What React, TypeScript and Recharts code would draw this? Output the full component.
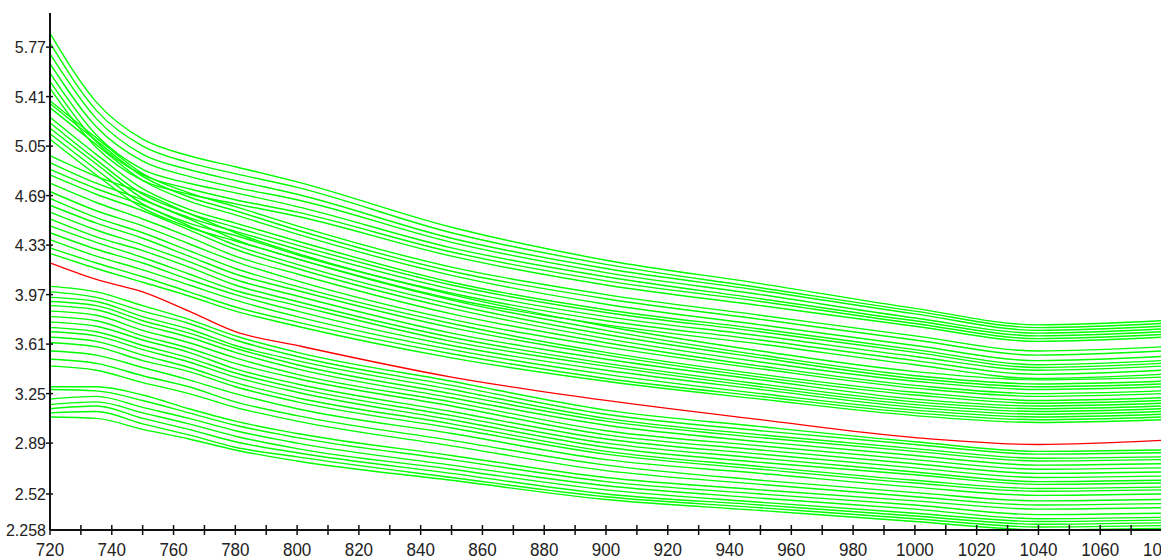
import React from "react";
import { LineChart, Line, XAxis, YAxis } from "recharts";

// wavelengths (nm) where each curve was sampled
const wavelengths = [720, 735, 750, 765, 780, 800, 850, 900, 950, 1000, 1040, 1080];

const xTicks = [
  720, 730, 740, 750, 760, 770, 780, 790, 800, 810, 820, 830, 840, 850, 860, 870, 880, 890,
  900, 910, 920, 930, 940, 950, 960, 970, 980, 990, 1000, 1010, 1020, 1030, 1040, 1050,
  1060, 1070, 1080,
];
const xLabels = [720, 740, 760, 780, 800, 820, 840, 860, 880, 900, 920, 940, 960, 980, 1000, 1020, 1040, 1060, 1080];

const yTicks = [2.258, 2.52, 2.89, 3.25, 3.61, 3.97, 4.33, 4.69, 5.05, 5.41, 5.77];
const yDomain = [2.258, 6.018];

// highlighted sample
const redCurve = [4.2, 4.08, 3.99, 3.85, 3.7, 3.6, 3.37, 3.2, 3.06, 2.93, 2.88, 2.91];

// all other samples
const greenCurves = [
  [5.87, 5.37, 5.1, 4.98, 4.9, 4.79, 4.46, 4.22, 4.05, 3.87, 3.75, 3.78],
  [5.8, 5.31, 5.05, 4.93, 4.85, 4.75, 4.42, 4.19, 4.02, 3.85, 3.73, 3.76],
  [5.72, 5.25, 4.99, 4.88, 4.8, 4.7, 4.38, 4.16, 4.0, 3.83, 3.71, 3.74],
  [5.65, 5.19, 4.94, 4.83, 4.75, 4.66, 4.35, 4.13, 3.97, 3.8, 3.69, 3.72],
  [5.58, 5.13, 4.88, 4.78, 4.71, 4.61, 4.31, 4.1, 3.94, 3.78, 3.67, 3.7],
  [5.52, 5.08, 4.84, 4.74, 4.66, 4.57, 4.28, 4.07, 3.92, 3.76, 3.65, 3.68],
  [5.47, 5.04, 4.8, 4.7, 4.63, 4.54, 4.25, 4.04, 3.89, 3.74, 3.63, 3.66],
  [5.38, 5.11, 4.85, 4.71, 4.61, 4.47, 4.17, 3.97, 3.82, 3.67, 3.56, 3.59],
  [5.36, 5.09, 4.83, 4.68, 4.58, 4.44, 4.14, 3.94, 3.79, 3.64, 3.53, 3.56],
  [5.33, 5.06, 4.8, 4.65, 4.55, 4.41, 4.11, 3.9, 3.75, 3.6, 3.49, 3.52],
  [5.26, 4.99, 4.74, 4.59, 4.49, 4.36, 4.06, 3.86, 3.72, 3.57, 3.46, 3.49],
  [5.22, 4.95, 4.7, 4.56, 4.46, 4.33, 4.04, 3.84, 3.7, 3.55, 3.44, 3.47],
  [5.18, 4.92, 4.67, 4.53, 4.43, 4.3, 4.01, 3.81, 3.67, 3.52, 3.42, 3.45],
  [5.14, 4.88, 4.63, 4.49, 4.4, 4.26, 3.98, 3.78, 3.64, 3.49, 3.39, 3.42],
  [5.1, 4.84, 4.6, 4.46, 4.36, 4.23, 3.94, 3.75, 3.61, 3.46, 3.36, 3.39],
  [4.98, 4.83, 4.71, 4.56, 4.42, 4.27, 3.97, 3.74, 3.56, 3.41, 3.35, 3.37],
  [4.93, 4.78, 4.66, 4.52, 4.37, 4.23, 3.93, 3.71, 3.53, 3.38, 3.32, 3.34],
  [4.88, 4.74, 4.62, 4.47, 4.33, 4.19, 3.9, 3.68, 3.51, 3.36, 3.3, 3.32],
  [4.84, 4.7, 4.58, 4.44, 4.3, 4.16, 3.87, 3.65, 3.48, 3.34, 3.28, 3.3],
  [4.78, 4.64, 4.52, 4.39, 4.25, 4.12, 3.83, 3.62, 3.45, 3.31, 3.25, 3.27],
  [4.72, 4.58, 4.47, 4.34, 4.21, 4.07, 3.79, 3.59, 3.43, 3.29, 3.23, 3.25],
  [4.67, 4.53, 4.42, 4.29, 4.16, 4.03, 3.76, 3.55, 3.39, 3.26, 3.2, 3.22],
  [4.62, 4.49, 4.38, 4.25, 4.12, 4.0, 3.73, 3.53, 3.37, 3.24, 3.18, 3.2],
  [4.57, 4.44, 4.33, 4.21, 4.08, 3.96, 3.69, 3.5, 3.35, 3.21, 3.16, 3.18],
  [4.52, 4.39, 4.29, 4.17, 4.04, 3.92, 3.66, 3.47, 3.32, 3.19, 3.14, 3.16],
  [4.47, 4.35, 4.24, 4.12, 4.0, 3.89, 3.63, 3.45, 3.3, 3.17, 3.12, 3.14],
  [4.42, 4.3, 4.2, 4.08, 3.97, 3.85, 3.6, 3.42, 3.28, 3.15, 3.1, 3.12],
  [4.37, 4.25, 4.15, 4.04, 3.93, 3.81, 3.57, 3.39, 3.25, 3.13, 3.08, 3.1],
  [4.31, 4.2, 4.1, 3.99, 3.88, 3.77, 3.54, 3.36, 3.23, 3.11, 3.06, 3.08],
  [4.27, 4.16, 4.06, 3.96, 3.85, 3.74, 3.51, 3.34, 3.21, 3.09, 3.04, 3.06],
  [4.03, 3.99, 3.89, 3.79, 3.67, 3.55, 3.34, 3.13, 3.01, 2.9, 2.83, 2.84],
  [3.99, 3.95, 3.85, 3.76, 3.64, 3.52, 3.31, 3.1, 2.98, 2.88, 2.81, 2.82],
  [3.95, 3.92, 3.81, 3.72, 3.6, 3.49, 3.28, 3.07, 2.95, 2.85, 2.78, 2.79],
  [3.92, 3.89, 3.78, 3.69, 3.58, 3.46, 3.25, 3.05, 2.93, 2.83, 2.76, 2.77],
  [3.89, 3.86, 3.75, 3.66, 3.55, 3.43, 3.22, 3.02, 2.9, 2.8, 2.73, 2.74],
  [3.85, 3.82, 3.71, 3.62, 3.51, 3.39, 3.19, 2.98, 2.87, 2.77, 2.7, 2.71],
  [3.81, 3.78, 3.67, 3.58, 3.47, 3.36, 3.16, 2.95, 2.84, 2.74, 2.67, 2.68],
  [3.77, 3.74, 3.64, 3.55, 3.43, 3.32, 3.12, 2.92, 2.81, 2.71, 2.64, 2.65],
  [3.73, 3.7, 3.6, 3.51, 3.4, 3.29, 3.09, 2.89, 2.78, 2.68, 2.61, 2.62],
  [3.7, 3.67, 3.57, 3.48, 3.37, 3.26, 3.06, 2.86, 2.75, 2.66, 2.59, 2.6],
  [3.66, 3.63, 3.53, 3.44, 3.33, 3.22, 3.03, 2.83, 2.72, 2.62, 2.56, 2.57],
  [3.62, 3.59, 3.49, 3.41, 3.3, 3.19, 3.0, 2.81, 2.7, 2.6, 2.54, 2.55],
  [3.56, 3.53, 3.44, 3.35, 3.25, 3.14, 2.96, 2.77, 2.67, 2.57, 2.51, 2.52],
  [3.5, 3.47, 3.38, 3.3, 3.19, 3.09, 2.91, 2.73, 2.62, 2.53, 2.47, 2.48],
  [3.45, 3.42, 3.33, 3.25, 3.15, 3.05, 2.87, 2.69, 2.59, 2.5, 2.44, 2.45],
  [3.3, 3.3, 3.24, 3.14, 3.05, 2.96, 2.8, 2.64, 2.55, 2.47, 2.41, 2.42],
  [3.28, 3.27, 3.2, 3.11, 3.02, 2.93, 2.77, 2.61, 2.52, 2.44, 2.37, 2.38],
  [3.21, 3.23, 3.15, 3.07, 2.98, 2.89, 2.73, 2.58, 2.49, 2.41, 2.34, 2.35],
  [3.17, 3.19, 3.11, 3.03, 2.94, 2.85, 2.7, 2.55, 2.46, 2.38, 2.32, 2.33],
  [3.14, 3.16, 3.07, 2.99, 2.9, 2.82, 2.67, 2.52, 2.44, 2.36, 2.3, 2.31],
  [3.11, 3.12, 3.03, 2.95, 2.86, 2.79, 2.64, 2.5, 2.42, 2.34, 2.28, 2.29],
  [3.08, 3.07, 2.99, 2.92, 2.84, 2.76, 2.62, 2.48, 2.4, 2.32, 2.26, 2.27],
];

const rows = wavelengths.map((w, i) => {
  const row: Record<string, number> = { x: w, red: redCurve[i] };
  greenCurves.forEach((c, j) => {
    row[`g${j}`] = c[i];
  });
  return row;
});

const FONT = "'Liberation Sans', Arial, sans-serif";

function XTick({ x, y, payload }: any) {
  const v = payload.value;
  return (
    <g>
      <line x1={x} x2={x} y1={y - 5} y2={y + 5} stroke="#111" strokeWidth={1.5} />
      {xLabels.includes(v) && (
        <text
          transform={`translate(${x},${y + 26}) scale(1,1.1)`}
          textAnchor="middle"
          fontFamily={FONT}
          fontSize={17}
          fill="#222"
        >
          {v}
        </text>
      )}
    </g>
  );
}

function YTick({ x, y, payload }: any) {
  const v = payload.value;
  return (
    <g>
      {v !== yDomain[0] && (
        <line x1={x - 4} x2={x + 3} y1={y} y2={y} stroke="#111" strokeWidth={1.5} />
      )}
      <text x={x - 4} y={y + 6} textAnchor="end" fontFamily={FONT} fontSize={16} fill="#222">
        {v}
      </text>
    </g>
  );
}

export default function App() {
  return (
    <div
      style={{
        position: "absolute",
        left: 0,
        top: 0,
        width: 1161,
        height: 559,
        overflow: "hidden",
        background: "#fff",
      }}
    >
      <LineChart
        width={1170}
        height={559}
        data={rows}
        margin={{ top: 13, right: 8, bottom: 0, left: 0 }}
      >
        <XAxis
          dataKey="x"
          type="number"
          domain={[720, 1080]}
          ticks={xTicks}
          interval={0}
          height={29}
          tickSize={0}
          tickMargin={0}
          tickLine={false}
          tick={<XTick />}
          axisLine={{ stroke: "#111", strokeWidth: 2 }}
        />
        <YAxis
          type="number"
          domain={yDomain}
          ticks={yTicks}
          interval={0}
          width={50}
          tickSize={0}
          tickMargin={0}
          tickLine={false}
          tick={<YTick />}
          axisLine={{ stroke: "#111", strokeWidth: 2 }}
        />
        {greenCurves.map((_, j) => (
          <Line
            key={j}
            dataKey={`g${j}`}
            type="monotone"
            stroke="#00ff00"
            strokeWidth={1.4}
            dot={false}
            isAnimationActive={false}
          />
        ))}
        <Line
          dataKey="red"
          type="monotone"
          stroke="#ff0000"
          strokeWidth={1.3}
          dot={false}
          isAnimationActive={false}
        />
      </LineChart>
    </div>
  );
}
